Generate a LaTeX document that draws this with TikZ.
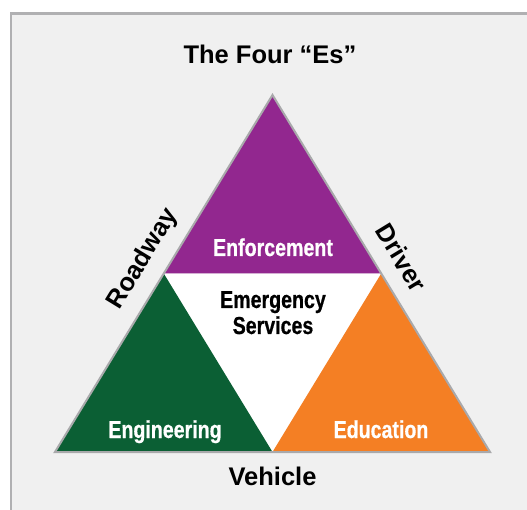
\documentclass[tikz,border=0pt]{standalone}
\usepackage{fontspec}
\usetikzlibrary{calc}
\setmainfont{Liberation Sans}
\newfontfamily\condfont[FakeStretch=0.8,BoldFeatures={FakeBold=0.6}]{Liberation Sans}
\definecolor{framegray}{HTML}{B0B0B2}
\definecolor{panel}{HTML}{F0F0F0}
\definecolor{edgegray}{HTML}{A9A9AB}
\definecolor{epurple}{HTML}{92278F}
\definecolor{egreen}{HTML}{0B5F34}
\definecolor{eorange}{HTML}{F47F24}
\tikzset{
  outer/.style={font=\fontsize{25.5}{28}\selectfont\bfseries, text=black, inner sep=0pt},
  inner/.style={font=\condfont\fontsize{24.5}{26}\selectfont\bfseries, inner sep=0pt, anchor=base},
}
\begin{document}
\begin{tikzpicture}[x=1pt,y=-1pt]
\useasboundingbox (0,0) rectangle (527,510);
\begin{scope}
\clip (0,0) rectangle (527,510);
\draw[framegray, line width=2.5pt, fill=panel] (11.2,13.5) rectangle (545,530);
\end{scope}
% triangle vertices
\coordinate (A) at (272.5,95);
\coordinate (BL) at (55,452);
\coordinate (BR) at (490,452);
\coordinate (ML) at ($(A)!0.5!(BL)$);
\coordinate (MR) at ($(A)!0.5!(BR)$);
\coordinate (MB) at ($(BL)!0.5!(BR)$);
\fill[white] (ML) -- (MR) -- (MB) -- cycle;
\fill[epurple] (A) -- (ML) -- (MR) -- cycle;
\fill[egreen] (ML) -- (BL) -- (MB) -- cycle;
\fill[eorange] (MR) -- (MB) -- (BR) -- cycle;
\draw[edgegray, line width=2pt, line join=miter] (A) -- (BL) -- (BR) -- cycle;
% texts
\node[outer, anchor=base] (title) at (270,64) {The Four “Es”};
\node[outer, anchor=base] (vehicle) at (272.5,485) {Vehicle};
\node[outer, rotate=58.6] (roadway) at (143,259) {Roadway};
\node[outer, rotate=-58.6] (driver) at (401.5,257.5) {Driver};
\node[inner, text=white] (enf) at (273,256) {Enforcement};
\node[inner, text=white] (eng) at (165,438) {Engineering};
\node[inner, text=white] (edu) at (381,438) {Education};
\node[inner, text=black] (em1) at (273,308) {Emergency};
\node[inner, text=black] (em2) at (273,334) {Services};
\end{tikzpicture}
\end{document}
